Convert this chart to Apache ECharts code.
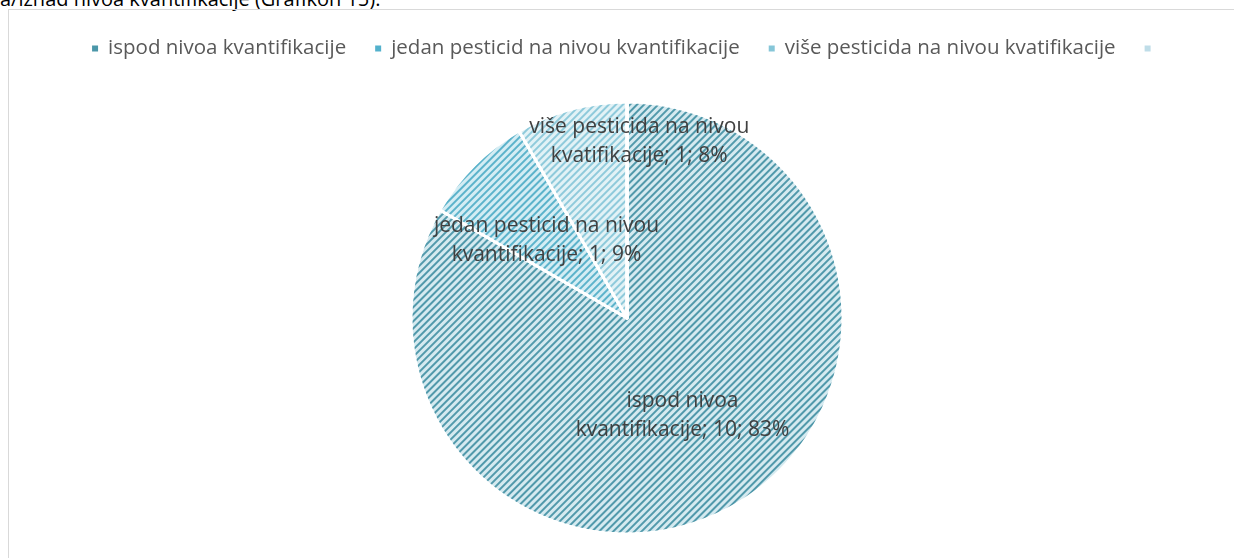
<!DOCTYPE html>
<html>
<head>
<meta charset="utf-8">
<script src="https://cdn.jsdelivr.net/npm/echarts@6/dist/echarts.min.js"></script>
<style>
  body { margin: 0; background: #fff; overflow: hidden; }
  #caption { position: absolute; left: 0; top: -15px; font: 20px "Open Sans", sans-serif; color: #000; white-space: nowrap; }
  #main { position: absolute; left: 8px; top: 9px; width: 1240px; height: 560px; border: 1px solid #d9d9d9; box-sizing: border-box; }
</style>
</head>
<body>
<div id="caption">a/iznad nivoa kvantifikacije (Grafikon 15).</div>
<div id="main"></div>
<script>
// podaci sa grafikona
const categories = ['ispod nivoa kvantifikacije', 'jedan pesticid na nivou kvantifikacije', 'više pesticida na nivou kvatifikacije', ' '];
const values = [10, 1, 1, 0];
const labelText = [
  'ispod nivoa\nkvantifikacije; 10; 83%',
  'jedan pesticid na nivou\nkvantifikacije; 1; 9%',
  'više pesticida na nivou\nkvatifikacije; 1; 8%',
  ''
];

// boje: osnova, šrafura, legenda
const baseColors = ['#d5eaf0', '#d4edf4', '#e2f2f6', '#e6f2f6'];
const stripeColors = ['#5199ab', '#5cb3cb', '#8fcadb', '#bcdce8'];
const legendColors = ['#4b97a9', '#53b1cc', '#86c6d8', '#bfdde8'];
const labelOffsets = [[0, 1], [-2, 1], [41, -69], [0, 0]];

var myChart = echarts.init(document.getElementById('main'));

const pieData = categories.map((name, i) => ({
  name: name,
  value: values[i],
  itemStyle: {
    color: baseColors[i],
    decal: {
      symbol: 'rect',
      symbolSize: 1,
      dashArrayX: [1, 0],
      dashArrayY: [2, 3],
      rotation: -Math.PI / 4,
      color: stripeColors[i]
    }
  },
  label: {
    show: values[i] > 0,
    formatter: labelText[i],
    offset: labelOffsets[i]
  }
}));

myChart.setOption({
  animation: false,
  aria: { enabled: true, decal: { show: true } },
  legend: {
    top: 23,
    left: 'center',
    icon: 'rect',
    itemWidth: 8,
    itemHeight: 8,
    itemGap: 27,
    data: categories.map((name, i) => ({
      name: name,
      itemStyle: { color: legendColors[i], decal: 'none' }
    })),
    textStyle: { fontFamily: 'Open Sans', fontSize: 20.5, color: '#595959', padding: [0, 0, 0, 4] }
  },
  series: [
    {
      type: 'pie',
      center: [618, 308],
      radius: 216,
      startAngle: 90,
      clockwise: true,
      avoidLabelOverlap: false,
      itemStyle: { borderColor: '#fff', borderWidth: 3 },
      label: {
        position: 'inside',
        fontFamily: 'Open Sans',
        fontSize: 21,
        lineHeight: 29,
        color: '#404040',
        align: 'center'
      },
      labelLine: { show: false },
      emphasis: { disabled: true },
      data: pieData
    }
  ]
});
</script>
</body>
</html>
